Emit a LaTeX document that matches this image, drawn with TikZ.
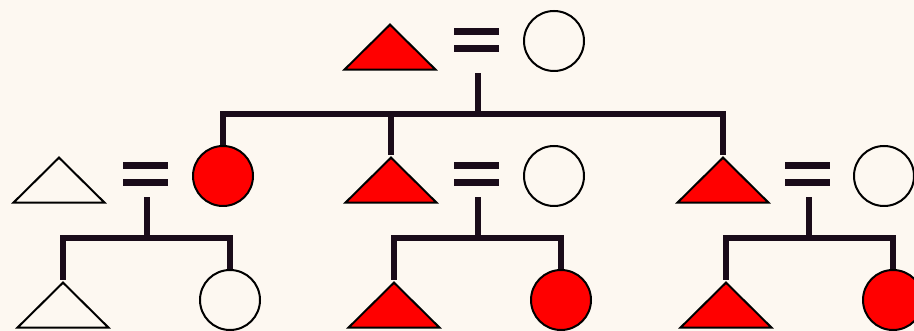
\documentclass[tikz,border=0pt]{standalone}
\usetikzlibrary{shapes.geometric}
\definecolor{sfondo}{RGB}{253,248,241}
\definecolor{rosso}{RGB}{255,0,0}
\definecolor{tratto}{RGB}{26,12,26}
\tikzset{
    tri/.style={isosceles triangle, shape border rotate=90, isosceles triangle stretches,
        minimum width=91pt, minimum height=45pt, inner sep=0pt, draw=black, line width=2pt,
        anchor=apex, fill=sfondo},
    cerchio/.style={circle, minimum size=60pt, inner sep=0pt, draw=black, line width=2pt, fill=sfondo},
    pieno/.style={fill=rosso},
    uguale/.style={minimum width=45pt, minimum height=24pt, inner sep=0pt,
        path picture={
            \fill[tratto] (path picture bounding box.north west) rectangle ([yshift=-7pt]path picture bounding box.north east);
            \fill[tratto] (path picture bounding box.south west) rectangle ([yshift=7pt]path picture bounding box.south east);
        }},
    linea/.style={draw=tratto, line width=5.5pt}
}
\begin{document}
\begin{tikzpicture}[x=1pt, y=-1pt]
        \fill[sfondo] (0,0) rectangle (914,331);
        \useasboundingbox (0,0) rectangle (914,331);
        % Coppia in alto
        \node[tri, pieno] (p0) at (390,22) {};
        \node[uguale] (u0) at (476.5,40) {};
        \node[cerchio] (m0) at (554,41) {};
        % Figli della coppia in alto
        \node[cerchio, pieno] (f1) at (223,176) {};
        \node[tri, pieno] (p2) at (391,155) {};
        \node[tri, pieno] (p3) at (723,155) {};
        \coordinate (b0) at (478,114);
        \draw[linea] ([yshift=-21pt]u0.south -| b0) -- (b0);
        \draw[linea] (f1.north) |- (b0) -| (p3.apex);
        \draw[linea] (b0 -| p2.apex) -- (p2.apex);
        % Coppia a sinistra
        \node[tri] (p1) at (59,155) {};
        \node[uguale] (u1) at (145.5,174) {};
        \node[tri] (n1) at (63,280) {};
        \node[cerchio] (g1) at (230,300) {};
        \coordinate (b1) at (147,238);
        \draw[linea] ([yshift=-11pt]u1.south -| b1) -- (b1);
        \draw[linea] (n1.apex) |- (b1) -| (g1.north);
        % Coppia al centro
        \node[uguale] (u2) at (476.5,174) {};
        \node[cerchio] (m2) at (554,176) {};
        \node[tri, pieno] (n2) at (394,280) {};
        \node[cerchio, pieno] (g2) at (561,300) {};
        \coordinate (b2) at (478,238);
        \draw[linea] ([yshift=-11pt]u2.south -| b2) -- (b2);
        \draw[linea] (n2.apex) |- (b2) -| (g2.north);
        % Coppia a destra
        \node[uguale] (u3) at (807.5,174) {};
        \node[cerchio] (m3) at (884,176) {};
        \node[tri, pieno] (n3) at (726,280) {};
        \node[cerchio, pieno] (g3) at (893,300) {};
        \coordinate (b3) at (809,238);
        \draw[linea] ([yshift=-11pt]u3.south -| b3) -- (b3);
        \draw[linea] (n3.apex) |- (b3) -| (g3.north);
    \end{tikzpicture}
\end{document}
